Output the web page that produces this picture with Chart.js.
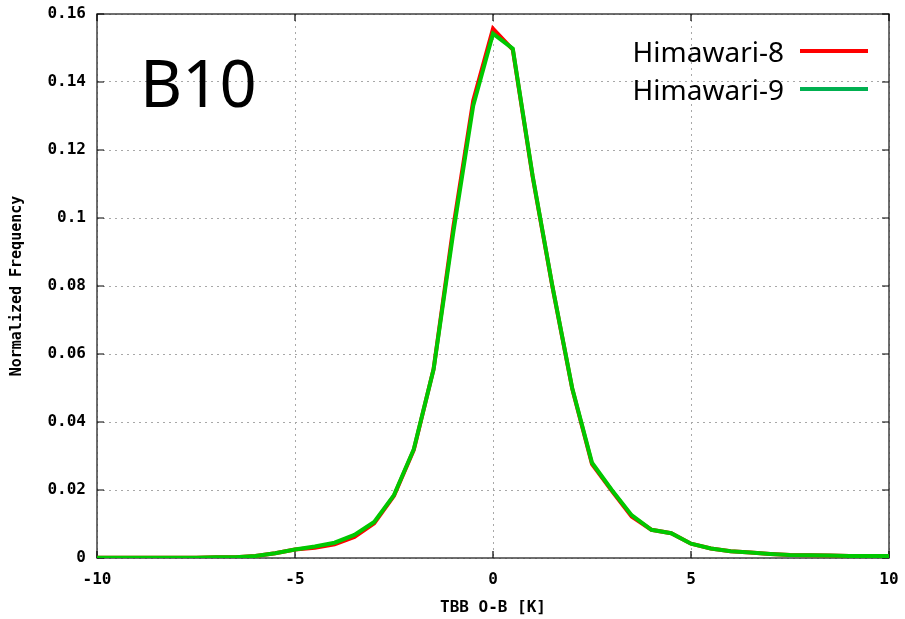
<!DOCTYPE html>
<html>
<head>
<meta charset="utf-8">
<script src="https://cdn.jsdelivr.net/npm/chart.js@4/dist/chart.umd.min.js"></script>
<style>
  html, body { margin: 0; padding: 0; background: #fff; }
  #wrap { width: 905px; height: 619px; }
</style>
</head>
<body>
<div id="wrap"><canvas id="chart"></canvas></div>
<script>
const xValues = [-10, -9.5, -9, -8.5, -8, -7.5, -7, -6.5, -6, -5.5, -5, -4.5, -4, -3.5, -3, -2.5, -2, -1.5, -1, -0.5,
    0, 0.5, 1, 1.5, 2, 2.5, 3, 3.5, 4, 4.5, 5, 5.5, 6, 6.5, 7, 7.5, 8, 8.5, 9, 9.5, 10];
const himawari8 = [0.0001, 0.0001, 0.0001, 0.0001, 0.0001, 0.0001, 0.0002, 0.0002, 0.0006, 0.0014, 0.0025, 0.0030, 0.0040, 0.0062, 0.0102, 0.0183, 0.0318, 0.0556, 0.0975, 0.1345,
    0.1557, 0.1495, 0.1122, 0.0798, 0.0498, 0.0276, 0.0198, 0.0122, 0.0083, 0.0073, 0.0042, 0.0028, 0.0020, 0.0016, 0.0012, 0.0009, 0.0008, 0.0007, 0.0006, 0.0006, 0.0006];
const himawari9 = [0.0001, 0.0001, 0.0001, 0.0001, 0.0001, 0.0001, 0.0002, 0.0002, 0.0006, 0.0014, 0.0025, 0.0034, 0.0045, 0.0068, 0.0106, 0.0185, 0.0320, 0.0555, 0.0960, 0.1330,
    0.1542, 0.1498, 0.1125, 0.0800, 0.0500, 0.0280, 0.0200, 0.0126, 0.0083, 0.0073, 0.0042, 0.0028, 0.0020, 0.0016, 0.0012, 0.0009, 0.0008, 0.0007, 0.0006, 0.0006, 0.0006];
const seriesNames = ['Himawari-8', 'Himawari-9'];
const xTicks = [-10, -5, 0, 5, 10];
const yTickLabels = ['0', '0.02', '0.04', '0.06', '0.08', '0.1', '0.12', '0.14', '0.16'];
const panelLabel = 'B10';

const monoFont = { family: 'DejaVu Sans Mono', size: 16, weight: 'bold' };

// frame + inward tick marks, gnuplot style
const framePlugin = {
    id: 'frame',
    beforeDatasetsDraw(chart) {
        const { ctx, chartArea: a, scales } = chart;
        ctx.save();
        ctx.strokeStyle = '#404040';
        ctx.lineWidth = 1.5;
        ctx.strokeRect(a.left, a.top, a.right - a.left, a.bottom - a.top);
        ctx.strokeStyle = '#000';
        ctx.lineWidth = 1.2;
        ctx.beginPath();
        scales.y.ticks.forEach(t => {
            const py = scales.y.getPixelForValue(t.value);
            ctx.moveTo(a.left, py); ctx.lineTo(a.left + 7, py);
            ctx.moveTo(a.right, py); ctx.lineTo(a.right - 7, py);
        });
        scales.x.ticks.forEach(t => {
            const px = scales.x.getPixelForValue(t.value);
            ctx.moveTo(px, a.bottom); ctx.lineTo(px, a.bottom - 7);
            ctx.moveTo(px, a.top); ctx.lineTo(px, a.top + 7);
        });
        ctx.stroke();
        ctx.restore();
    }
};

// big panel label and the legend in the top corners
const labelsPlugin = {
    id: 'labels',
    afterDraw(chart, args, opts) {
        const { ctx } = chart;
        ctx.save();
        ctx.fillStyle = '#000';
        ctx.font = '65px "Noto Sans"';
        ctx.textAlign = 'left';
        ctx.textBaseline = 'alphabetic';
        ctx.fillText(panelLabel, 140, 107);

        ctx.font = '28px "Noto Sans"';
        ctx.textAlign = 'right';
        chart.data.datasets.forEach((ds, i) => {
            const cy = 51 + i * 38;
            ctx.fillStyle = '#000';
            ctx.fillText(ds.label, 784, cy + 11);
            ctx.strokeStyle = opts.colors[i];
            ctx.lineWidth = 4;
            ctx.beginPath();
            ctx.moveTo(800, cy);
            ctx.lineTo(868, cy);
            ctx.stroke();
        });
        ctx.restore();
    }
};

new Chart(document.getElementById('chart'), {
    type: 'line',
    data: {
        datasets: [
            {
                label: seriesNames[0],
                data: xValues.map((x, i) => ({ x: x, y: himawari8[i] })),
                borderColor: '#ff0000',
                borderWidth: 4,
                pointRadius: 0,
                tension: 0,
                order: 2
            },
            {
                label: seriesNames[1],
                data: xValues.map((x, i) => ({ x: x, y: himawari9[i] })),
                borderColor: '#00c800',
                borderWidth: 4,
                pointRadius: 0,
                tension: 0,
                order: 1
            }
        ]
    },
    options: {
        responsive: true,
        maintainAspectRatio: false,
        animation: false,
        layout: { padding: { left: 0, top: 14, right: 16, bottom: 0 } },
        plugins: {
            legend: { display: false },
            tooltip: { enabled: false },
            labels: { colors: ['#ff0000', '#00b050'] }
        },
        scales: {
            x: {
                type: 'linear',
                min: -10,
                max: 10,
                afterBuildTicks: scale => { scale.ticks = xTicks.map(v => ({ value: v })); },
                afterFit: scale => {
                    scale.height = 61;
                    scale.paddingLeft = 0;
                    scale.paddingRight = 0;
                },
                ticks: {
                    color: '#000',
                    font: monoFont,
                    padding: 12,
                    maxRotation: 0,
                    callback: v => String(v)
                },
                grid: { color: '#a8a8a8', lineWidth: 1, drawTicks: false },
                border: { display: false, dash: [2, 4] },
                title: {
                    display: true,
                    text: 'TBB O-B [K]',
                    color: '#000',
                    font: monoFont,
                    padding: { top: 0, bottom: 2 }
                }
            },
            y: {
                type: 'linear',
                min: 0,
                max: 0.16,
                afterBuildTicks: scale => { scale.ticks = yTickLabels.map(s => ({ value: parseFloat(s) })); },
                afterFit: scale => {
                    scale.width = 97;
                    scale.paddingTop = 0;
                    scale.paddingBottom = 0;
                },
                ticks: {
                    color: '#000',
                    font: monoFont,
                    padding: 11,
                    callback: (v, i) => yTickLabels[i]
                },
                grid: { color: '#a8a8a8', lineWidth: 1, drawTicks: false },
                border: { display: false, dash: [2, 4] },
                title: {
                    display: true,
                    text: 'Normalized Frequency',
                    color: '#000',
                    font: { family: 'DejaVu Sans Mono', size: 15, weight: 'bold' },
                    padding: { top: 8, bottom: 0 }
                }
            }
        }
    },
    plugins: [framePlugin, labelsPlugin]
});
</script>
</body>
</html>
